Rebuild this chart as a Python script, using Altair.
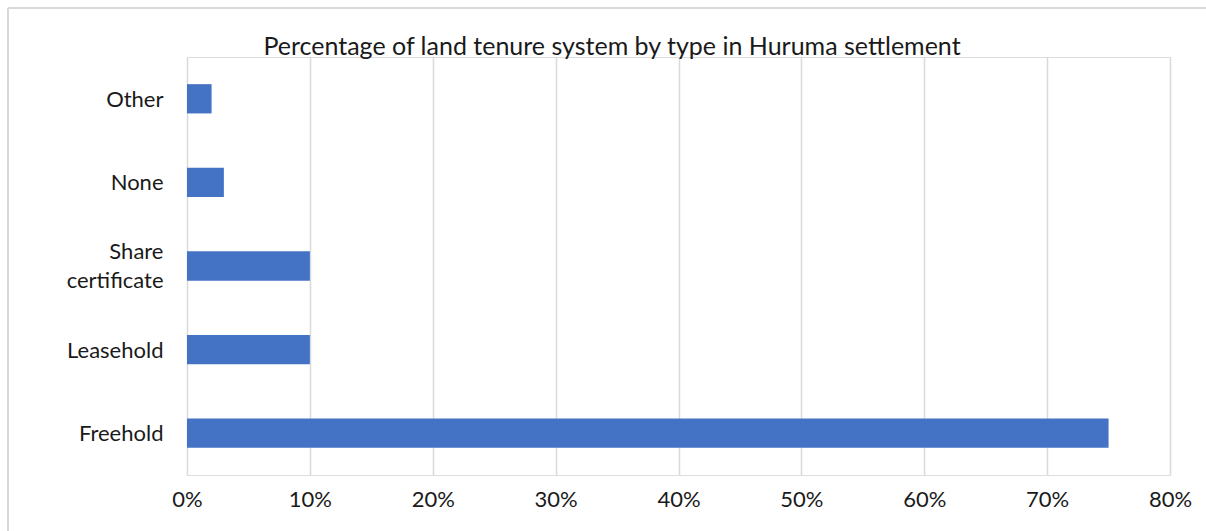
import altair as alt
import pandas as pd

categories = ["Other", "None", "Share certificate", "Leasehold", "Freehold"]
shares = [0.02, 0.03, 0.10, 0.10, 0.75]
tick_values = [0.0, 0.1, 0.2, 0.3, 0.4, 0.5, 0.6, 0.7, 0.8]
title_text = "Percentage of land tenure system by type in Huruma settlement"

df = pd.DataFrame({"tenure": categories, "share": shares})

FONT = "Lato"
GRID = "#D9D9D9"
TEXT = "#1a1a1a"
LABEL_SIZE = 22

bars = alt.Chart(df).mark_bar(color="#4472C4").encode(
    x=alt.X(
        "share:Q",
        scale=alt.Scale(domain=[0, 0.8], nice=False),
        axis=alt.Axis(
            values=tick_values,
            format=".0%",
            title=None,
            grid=True,
            gridColor=GRID,
            gridWidth=1.5,
            domain=False,
            ticks=False,
            labelFlush=False,
            labelPadding=14,
            labelFontSize=LABEL_SIZE,
            labelFont=FONT,
            labelColor=TEXT,
        ),
    ),
    y=alt.Y(
        "tenure:N",
        sort=categories,
        scale=alt.Scale(paddingInner=0.65, paddingOuter=0.325),
        axis=alt.Axis(
            title=None,
            domain=False,
            ticks=False,
            grid=False,
            labelPadding=24,
            labelFontSize=LABEL_SIZE,
            labelFont=FONT,
            labelColor=TEXT,
            labelLineHeight=29,
            labelOffset={
                "condition": {"test": "datum.value == 'Share certificate'", "value": -14},
                "value": 1,
            },
            labelExpr="datum.label == 'Share certificate' ? ['Share', 'certificate'] : datum.label",
        ),
    ),
)

title_df = pd.DataFrame({"t": [title_text]})
title_mark = alt.Chart(title_df).mark_text(
    font=FONT, fontSize=25, color=TEXT, align="center", baseline="alphabetic"
).encode(text="t:N", x=alt.value(425), y=alt.value(-2))

# outer chart frame (top and left edges visible in the reference)
frame_top = alt.Chart(df).mark_rule(color=GRID, strokeWidth=2).encode(
    x=alt.value(-179), x2=alt.value(1030), y=alt.value(-49)
)
frame_left = alt.Chart(df).mark_rule(color=GRID, strokeWidth=2).encode(
    x=alt.value(-179), y=alt.value(-49), y2=alt.value(480)
)

chart = (
    alt.layer(frame_top, frame_left, bars, title_mark)
    .properties(
        width=983,
        height=418,
        autosize=alt.AutoSizeParams(type="none"),
        padding={"left": 187, "top": 57, "right": 36, "bottom": 56},
    )
    .configure_view(stroke=GRID, strokeWidth=2)
    .configure(background="white")
)

chart.save("out.html", embed_options={"renderer": "svg", "actions": False})
